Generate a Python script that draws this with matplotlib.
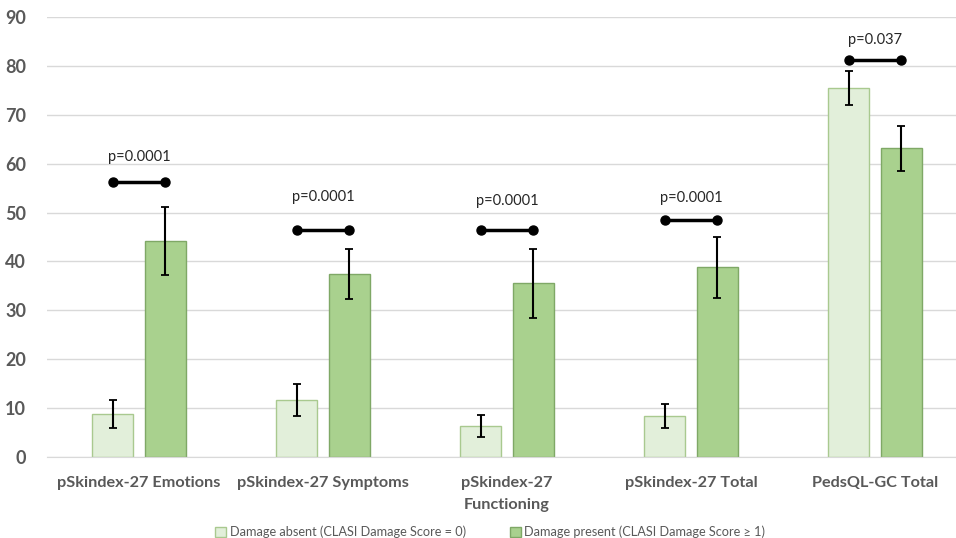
import matplotlib
matplotlib.use('Agg')
import matplotlib.pyplot as plt
import numpy as np

plt.rcParams['font.family'] = ['Lato', 'DejaVu Sans']

# Data
categories = ['pSkindex-27 Emotions', 'pSkindex-27 Symptoms', 'pSkindex-27\nFunctioning',
              'pSkindex-27 Total', 'PedsQL-GC Total']
absent_mean = [8.8, 11.6, 6.3, 8.3, 75.5]
absent_err = [2.9, 3.2, 2.3, 2.5, 3.5]
present_mean = [44.2, 37.5, 35.5, 38.8, 63.2]
present_err = [7.0, 5.1, 7.0, 6.3, 4.6]
p_labels = ['p=0.0001', 'p=0.0001', 'p=0.0001', 'p=0.0001', 'p=0.037']
bracket_y = [56.2, 46.5, 46.5, 48.4, 81.3]
label_y = [61.4, 53.1, 52.3, 53.0, 85.4]

light = '#E2EFDA'
light_edge = '#A9C98F'
dark = '#A9D18E'
dark_edge = '#7FA866'

fig = plt.figure(figsize=(9.56, 5.38), dpi=100)
ax = fig.add_axes([47 / 956, 0.151, 909 / 956, 0.817])

x = np.arange(len(categories))
w = 0.223
off = 0.144

ax.bar(x - off, absent_mean, w, color=light, edgecolor=light_edge, linewidth=1,
       label='Damage absent (CLASI Damage Score = 0)', zorder=2)
ax.bar(x + off, present_mean, w, color=dark, edgecolor=dark_edge, linewidth=1,
       label='Damage present (CLASI Damage Score \u2265 1)', zorder=2)
ax.errorbar(x - off, absent_mean, yerr=absent_err, fmt='none', ecolor='black',
            elinewidth=1.5, capsize=3, capthick=1.3, zorder=3)
ax.errorbar(x + off, present_mean, yerr=present_err, fmt='none', ecolor='black',
            elinewidth=1.5, capsize=3, capthick=1.3, zorder=3)

# significance brackets
for i in range(len(categories)):
    ax.plot([x[i] - off, x[i] + off], [bracket_y[i], bracket_y[i]], color='black',
            lw=2.5, marker='o', markersize=6.5, zorder=4)
    ax.text(x[i], label_y[i], p_labels[i], ha='center', va='center',
            fontsize=10.5, color='#262626')

ax.set_ylim(0, 90)
ax.set_xlim(-0.5, -0.5 + 909 / 184)
ax.set_yticks(range(0, 91, 10))
ax.set_xticks(x)
ax.set_xticklabels(categories, fontsize=11.7, fontweight='bold', color='#595959',
                   linespacing=1.7)
ax.tick_params(axis='y', labelsize=13, labelcolor='#595959', length=0, pad=15)
ax.tick_params(axis='x', length=0, pad=14)
for lab in ax.get_yticklabels():
    lab.set_fontweight('bold')

ax.grid(axis='y', color='#D9D9D9', lw=1, zorder=0)
ax.set_axisbelow(True)
for s in ['top', 'right', 'left']:
    ax.spines[s].set_visible(False)
ax.spines['bottom'].set_color('#D9D9D9')

fig.legend(loc='lower center', bbox_to_anchor=(0.513, -0.022), ncol=2, frameon=False,
           fontsize=9.2, labelcolor='#595959', handlelength=0.8, handleheight=0.8,
           handletextpad=0.3, columnspacing=3.5)

fig.savefig('out.png', dpi=100)
